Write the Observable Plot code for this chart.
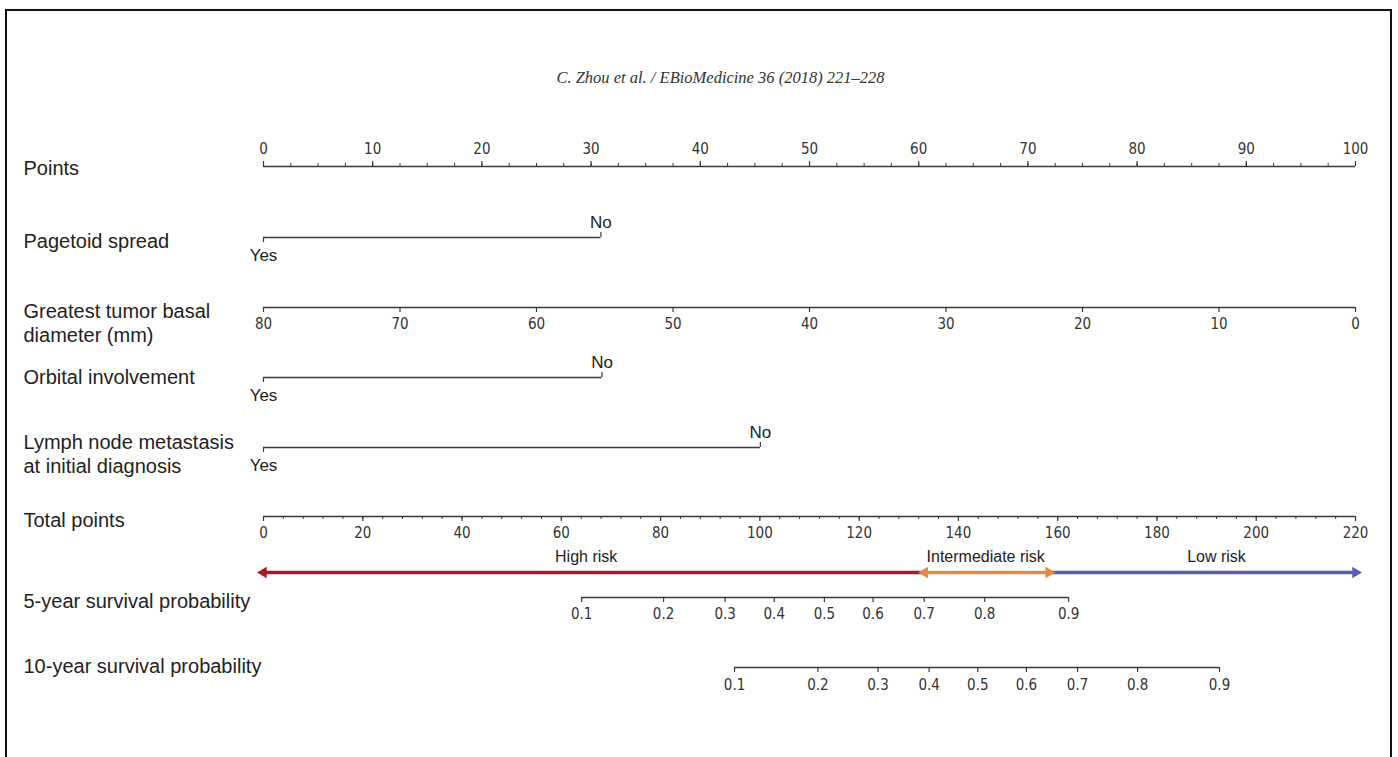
<!DOCTYPE html>
<html>
<head>
<meta charset="utf-8">
<script src="https://cdn.jsdelivr.net/npm/d3@7"></script>
<script src="https://cdn.jsdelivr.net/npm/@observablehq/plot@0.6"></script>
<style>
  html, body { margin: 0; padding: 0; background: #fff; overflow: hidden; }
  #wrap { position: relative; width: 1398px; height: 757px; }
  #wrap svg { position: absolute; left: 0; top: 0; }
  #frame { position: absolute; left: 5px; top: 9px; width: 1383px; height: 820px;
           border: 2px solid #111; pointer-events: none; }
</style>
</head>
<body>
<div id="wrap"><div id="frame"></div></div>
<script>
// ---------------- DATA ----------------
const headerText = "C. Zhou et al. / EBioMedicine 36 (2018) 221–228";

const rowNames = ["Points", "Pagetoid spread", "Greatest tumor basal\ndiameter (mm)",
  "Orbital involvement", "Lymph node metastasis\nat initial diagnosis", "Total points",
  "5-year survival probability", "10-year survival probability"];

const pointsMajor = [0, 10, 20, 30, 40, 50, 60, 70, 80, 90, 100];
const pointsMinor = d3.range(0, 100.01, 2.5);

const pagetoidLevels = ["Yes", "No"];
const pagetoidPoints = [0, 30.9];

const diameterTicks = [80, 70, 60, 50, 40, 30, 20, 10, 0];
const diameterMax = 80;          // mm at 0 points
const diameterMaxPoints = 100;   // points at 0 mm

const orbitalLevels = ["Yes", "No"];
const orbitalPoints = [0, 31.0];

const lymphLevels = ["Yes", "No"];
const lymphPoints = [0, 45.5];

const totalMax = 220;
const totalMajor = [0, 20, 40, 60, 80, 100, 120, 140, 160, 180, 200, 220];
const totalMinor = d3.range(0, 220.01, 4);

const riskNames = ["High risk", "Intermediate risk", "Low risk"];
const riskFrom = [0, 133.2, 158.2];
const riskTo = [133.2, 158.2, 220];
const riskLabelAt = [65, 145.5, 192];
const riskColors = ["#a01e2c", "#e08a48", "#5a5cb4"];

const survProbs = [0.1, 0.2, 0.3, 0.4, 0.5, 0.6, 0.7, 0.8, 0.9];
const surv5Total = [64.1, 80.6, 93.0, 102.9, 113.0, 122.8, 133.1, 145.3, 162.2];
const surv10Total = [94.9, 111.7, 123.8, 134.1, 143.9, 153.7, 164.0, 176.1, 192.6];

// ---------------- LAYOUT (pixel rows, styles) ----------------
const L = {
  headerDx: 21, headerDy: 77,
  labelX: 23,
  rowLabelY: [167, 240, 321.5, 376, 452.5, 519, 600, 665],
  points: 166, pagetoid: 237, diameter: 307, orbital: 377, lymph: 447,
  total: 516, risk: 572, risk_label: 556, surv5: 597, surv10: 667
};
const ink = "#3a3a3a";
const textInk = "#222";
const sans = "'Liberation Sans', Arial, Helvetica, sans-serif";
const narrow = "'Liberation Sans Narrow', 'Arial Narrow', 'DejaVu Sans Condensed', sans-serif";
const tickFont = 15;

// conversions to the "Points" scale
const totalToPts = t => t * 100 / totalMax;
const diamToPts = d => (diameterMax - d) * diameterMaxPoints / diameterMax;

// ---------------- MARKS ----------------
const marks = [];

// header
marks.push(Plot.text([headerText], {
  frameAnchor: "top", dx: L.headerDx, dy: L.headerDy, text: d => d, lineAnchor: "middle",
  fontFamily: "'Liberation Serif', 'DejaVu Serif', serif", fontStyle: "italic",
  fontSize: 16.5, fill: "#333"
}));

// row labels
marks.push(Plot.text(rowNames, {
  frameAnchor: "left", dx: L.labelX, y: (d, i) => L.rowLabelY[i], text: d => d,
  textAnchor: "start", lineAnchor: "middle", lineHeight: 1.2,
  fontFamily: sans, fontSize: 20, fill: textInk
}));

// generic continuous axis
function axis({y, xs, x1, x2, major, minor, fmt, dir, labelDy, majorLen = 5, minorLen = 3}) {
  marks.push(Plot.ruleY([y], {x1, x2, stroke: ink, strokeWidth: 1.3}));
  if (minor) marks.push(Plot.ruleX(minor, {x: xs, y1: y, y2: y + dir * minorLen, stroke: ink, strokeWidth: 1}));
  marks.push(Plot.ruleX(major, {x: xs, y1: y, y2: y + dir * majorLen, stroke: ink, strokeWidth: 1.2}));
  marks.push(Plot.text(major, {x: xs, y: y + labelDy, text: fmt,
    fontFamily: narrow, fontSize: tickFont, fill: "#333"}));
}

// Points axis
axis({y: L.points, xs: d => d, x1: 0, x2: 100, major: pointsMajor, minor: pointsMinor,
  fmt: d => String(d), dir: -1, labelDy: -17});

// categorical variables
function catVar(levels, pts, y) {
  const data = levels.map((lv, i) => ({lv, p: pts[i], up: i % 2 === 1}));
  marks.push(Plot.ruleY([y], {x1: d3.min(pts), x2: d3.max(pts), stroke: ink, strokeWidth: 1.3}));
  marks.push(Plot.ruleX(data, {x: "p", y1: y, y2: d => d.up ? y - 5 : y + 5, stroke: ink, strokeWidth: 1.2}));
  marks.push(Plot.text(data, {x: "p", y: d => d.up ? y - 15 : y + 18, text: "lv",
    fontFamily: sans, fontSize: 17, fill: textInk}));
}
catVar(pagetoidLevels, pagetoidPoints, L.pagetoid);

// Diameter axis
axis({y: L.diameter, xs: diamToPts, x1: 0, x2: 100, major: diameterTicks,
  fmt: d => String(d), dir: 1, labelDy: 17});

catVar(orbitalLevels, orbitalPoints, L.orbital);
catVar(lymphLevels, lymphPoints, L.lymph);

// Total points axis
axis({y: L.total, xs: totalToPts, x1: 0, x2: 100, major: totalMajor, minor: totalMinor,
  fmt: d => String(d), dir: 1, labelDy: 17});

// Risk arrows
const risks = riskNames.map((name, i) => ({name, from: riskFrom[i], to: riskTo[i], at: riskLabelAt[i], color: riskColors[i]}));
marks.push(Plot.ruleY(risks, {
  x1: d => totalToPts(d.from), x2: d => totalToPts(d.to), y: () => L.risk,
  stroke: d => d.color, strokeWidth: 3.5
}));
const heads = [
  {t: riskFrom[0], dir: "left", color: riskColors[0]},
  {t: riskFrom[1], dir: "left", color: riskColors[1]},
  {t: riskTo[1], dir: "right", color: riskColors[1]},
  {t: riskTo[2], dir: "right", color: riskColors[2]}
];
marks.push(Plot.dot(heads, {
  x: d => totalToPts(d.t), y: () => L.risk,
  symbol: "triangle", r: 4.2, rotate: d => d.dir === "left" ? -90 : 90,
  fill: d => d.color, stroke: "none"
}));
marks.push(Plot.text(risks, {
  x: d => totalToPts(d.at), y: () => L.risk_label, text: "name",
  fontFamily: sans, fontSize: 16, fill: textInk
}));

// Survival axes
const s5 = survProbs.map((p, i) => ({p, t: surv5Total[i]}));
const s10 = survProbs.map((p, i) => ({p, t: surv10Total[i]}));
axis({y: L.surv5, xs: d => totalToPts(d.t), x1: totalToPts(d3.min(surv5Total)), x2: totalToPts(d3.max(surv5Total)),
  major: s5, fmt: d => String(d.p), dir: 1, labelDy: 17});
axis({y: L.surv10, xs: d => totalToPts(d.t), x1: totalToPts(d3.min(surv10Total)), x2: totalToPts(d3.max(surv10Total)),
  major: s10, fmt: d => String(d.p), dir: 1, labelDy: 18});

const chart = Plot.plot({
  width: 1398, height: 757,
  margin: 0,
  x: {domain: [0, 100], range: [263, 1355], axis: null},
  y: {domain: [0, 757], range: [0, 757], axis: null},
  style: {background: "transparent", overflow: "visible"},
  marks
});
document.getElementById("wrap").prepend(chart);
</script>
</body>
</html>
